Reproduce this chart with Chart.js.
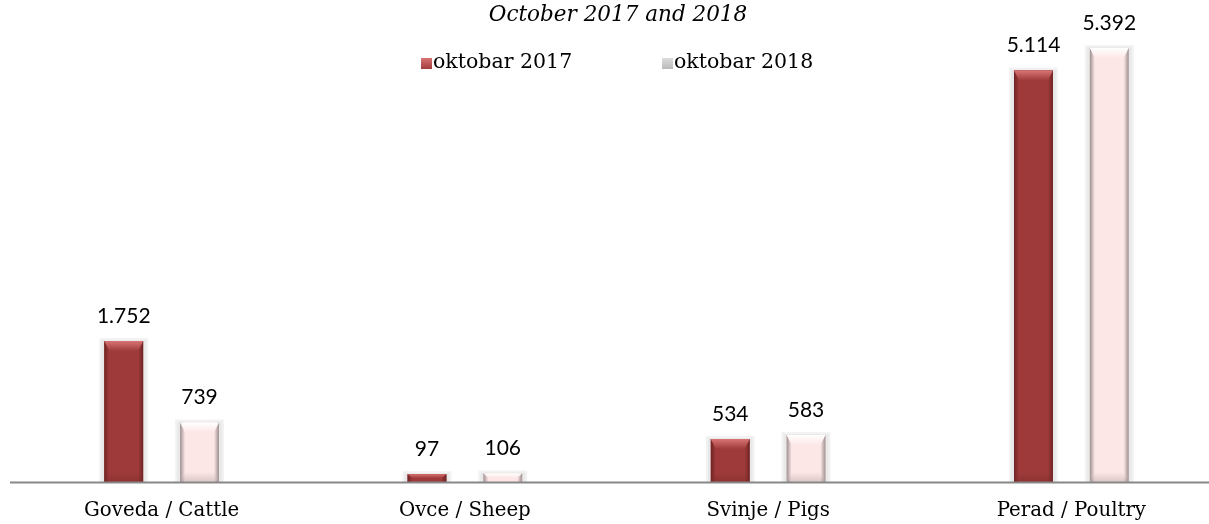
<!DOCTYPE html>
<html>
<head>
<meta charset="utf-8">
<script src="https://cdn.jsdelivr.net/npm/chart.js@4.4.1/dist/chart.umd.min.js"></script>
<style>
  html, body { margin: 0; padding: 0; background: #ffffff; overflow: hidden; }
  #wrap { width: 1233px; height: 524px; position: relative; }
</style>
</head>
<body>
<div id="wrap"><canvas id="c" width="1233" height="524"></canvas></div>
<script>
const titleText = 'October 2017 and 2018';
const categories = ['Goveda / Cattle', 'Ovce / Sheep', 'Svinje / Pigs', 'Perad / Poultry'];
const seriesLabels = ['oktobar 2017', 'oktobar 2018'];
const series2017 = [1752, 97, 534, 5114];
const series2018 = [739, 106, 583, 5392];
const yMin = 0;
const yMax = 5990;

const SERIF = '"DejaVu Serif", "Liberation Serif", serif';
const SANS = 'Lato, "Liberation Sans", sans-serif';

const styles = [
  { base: '#9f3a3a', light: '#d97474', dark: '#6e2323', legend: '#a33c3c' },
  { base: '#fde6e6', light: '#ffffff', dark: '#9c8f8f', legend: '#b9b9b9' }
];

function fmt(v) {
  return String(v).replace(/\B(?=(\d{3})+(?!\d))/g, '.');
}

const bevelPlugin = {
  id: 'bevel',
  beforeDatasetsDraw(chart) {
    const ctx = chart.ctx;
    ctx.save();
    chart.data.datasets.forEach((ds, di) => {
      chart.getDatasetMeta(di).data.forEach(el => {
        const w = el.width, l = el.x - w / 2, t = el.y, b = el.base;
        ctx.fillStyle = 'rgba(0,0,0,0.05)';
        ctx.fillRect(l - 5, t - 3, w + 10, b - t + 3);
        ctx.fillStyle = 'rgba(0,0,0,0.04)';
        ctx.fillRect(l - 3, t - 1, w + 6, b - t + 1);
      });
    });
    ctx.restore();
  },
  afterDatasetsDraw(chart) {
    const ctx = chart.ctx;
    ctx.save();
    chart.data.datasets.forEach((ds, di) => {
      const st = styles[di];
      chart.getDatasetMeta(di).data.forEach((el, idx) => {
        const w = el.width, l = el.x - w / 2, r = el.x + w / 2, t = el.y, b = el.base;
        const h = b - t;
        const bv = Math.min(10, h / 2);
        const side = Math.min(5, w / 4);
        let g = ctx.createLinearGradient(l, 0, r, 0);
        g.addColorStop(0, st.dark);
        g.addColorStop(side / w, st.base);
        g.addColorStop(1 - side / w, st.base);
        g.addColorStop(1, st.dark);
        ctx.fillStyle = g;
        ctx.fillRect(l, t, w, h);
        g = ctx.createLinearGradient(0, t, 0, t + bv);
        g.addColorStop(0, st.light);
        g.addColorStop(1, st.base);
        ctx.fillStyle = g;
        ctx.beginPath();
        ctx.moveTo(l, t);
        ctx.lineTo(r, t);
        ctx.lineTo(r - side, t + bv);
        ctx.lineTo(l + side, t + bv);
        ctx.closePath();
        ctx.fill();
        if (h > 20) {
          g = ctx.createLinearGradient(0, b - bv, 0, b);
          g.addColorStop(0, st.base);
          g.addColorStop(1, st.dark);
          ctx.globalAlpha = 0.35;
          ctx.fillStyle = g;
          ctx.beginPath();
          ctx.moveTo(l + side, b - bv);
          ctx.lineTo(r - side, b - bv);
          ctx.lineTo(r, b);
          ctx.lineTo(l, b);
          ctx.closePath();
          ctx.fill();
          ctx.globalAlpha = 1;
        }
        ctx.fillStyle = '#000';
        ctx.font = '21px ' + SANS;
        ctx.textAlign = 'center';
        ctx.textBaseline = 'middle';
        ctx.fillText(fmt(ds.data[idx]), el.x, t - 25);
      });
    });
    ctx.restore();
  },
  afterDraw(chart) {
    const ctx = chart.ctx;
    const y = chart.chartArea.bottom;
    ctx.save();
    ctx.strokeStyle = '#888888';
    ctx.lineWidth = 2;
    ctx.beginPath();
    ctx.moveTo(10, y + 0.5);
    ctx.lineTo(chart.width, y + 0.5);
    ctx.stroke();
    ctx.fillStyle = '#000';
    ctx.font = 'italic 21.5px ' + SERIF;
    ctx.textAlign = 'center';
    ctx.textBaseline = 'middle';
    ctx.fillText(titleText, 618, 15);
    ctx.font = '20.5px ' + SERIF;
    ctx.textAlign = 'left';
    const lx = [421, 662];
    chart.data.datasets.forEach((ds, i) => {
      const st = styles[i];
      const g = ctx.createLinearGradient(lx[i], 58, lx[i], 69);
      g.addColorStop(0, st.light === '#ffffff' ? '#dcdcdc' : st.light);
      g.addColorStop(1, st.legend);
      ctx.fillStyle = g;
      ctx.fillRect(lx[i], 58, 11, 11);
      ctx.fillStyle = '#000';
      ctx.fillText(ds.label, lx[i] + 12, 63);
    });
    ctx.restore();
  }
};

new Chart(document.getElementById('c'), {
  type: 'bar',
  data: {
    labels: categories,
    datasets: [
      { label: seriesLabels[0], data: series2017, backgroundColor: styles[0].base },
      { label: seriesLabels[1], data: series2018, backgroundColor: styles[1].base }
    ]
  },
  options: {
    responsive: false,
    animation: false,
    layout: { padding: { left: 10, right: 10, top: 0, bottom: 0 } },
    datasets: { bar: { categoryPercentage: 0.5, barPercentage: 0.513 } },
    plugins: { legend: { display: false }, title: { display: false }, tooltip: { enabled: false } },
    scales: {
      x: {
        grid: { display: false, drawTicks: false },
        border: { display: false },
        ticks: { color: '#000', font: { family: SERIF, size: 19.8 }, padding: 17, maxRotation: 0 },
        afterFit(scale) { scale.height = 42; }
      },
      y: { display: false, min: yMin, max: yMax }
    }
  },
  plugins: [bevelPlugin]
});
</script>
</body>
</html>
